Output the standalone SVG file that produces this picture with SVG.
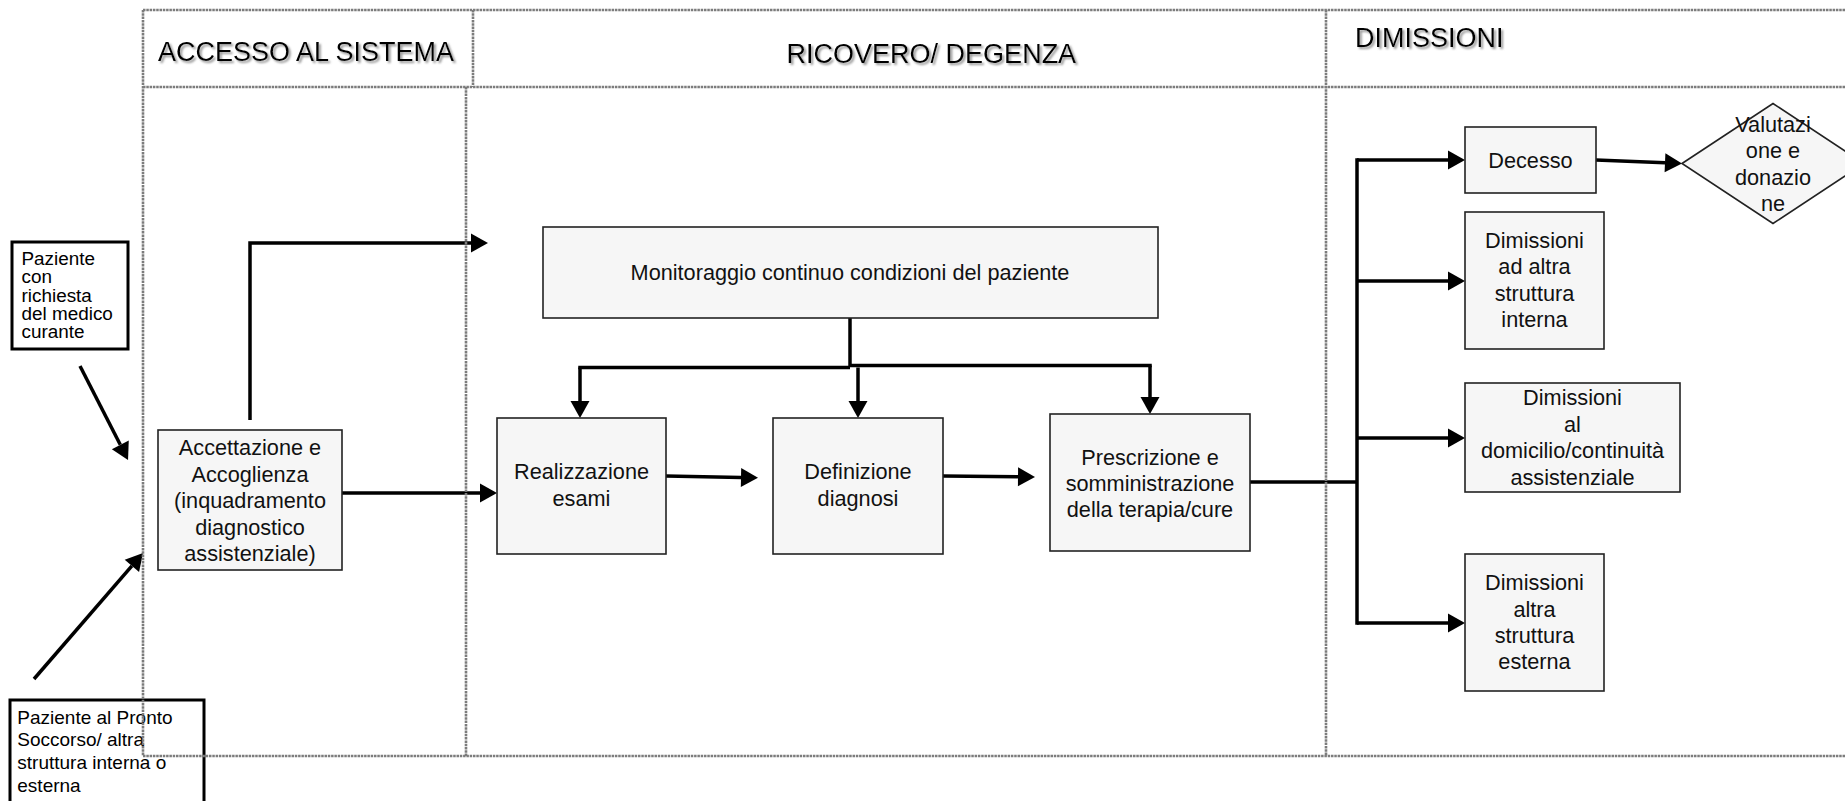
<svg xmlns="http://www.w3.org/2000/svg" width="1845" height="801" viewBox="0 0 1845 801">
<style>
.frame{stroke:#7c7c7c;stroke-width:2.6;stroke-dasharray:2.5 0.8;fill:none}
.hdr{font-family:"Liberation Sans",Arial,sans-serif;font-size:27px;fill:#000}
.box{fill:#f6f6f6;stroke:#222;stroke-width:1.6}
.src{fill:none;stroke:#000;stroke-width:3}
.t{font-family:"Liberation Sans",Arial,sans-serif;font-size:21.7px;fill:#111;text-anchor:middle}
.ts{font-family:"Liberation Sans",Arial,sans-serif;font-size:18.9px;fill:#000}
.tb{font-family:"Liberation Sans",Arial,sans-serif;font-size:19px;fill:#000}
.c{fill:none;stroke:#000;stroke-width:3.5;stroke-linejoin:miter}
</style>
<defs>
<marker id="ah" markerUnits="userSpaceOnUse" viewBox="0 -9.5 17 19" refX="0" refY="0" markerWidth="17" markerHeight="19" orient="auto" overflow="visible">
<path d="M0,-9.5 L17,0 L0,9.5 z" fill="#000"/>
</marker>
<filter id="sh" x="-5%" y="-20%" width="115%" height="160%">
<feDropShadow dx="2" dy="2" stdDeviation="1" flood-color="#888" flood-opacity="0.9"/>
</filter>
</defs>
<rect width="1845" height="801" fill="#fff"/>

<g id="lanes">
<text class="hdr" x="158" y="60.7" filter="url(#sh)">ACCESSO AL SISTEMA</text>
<text class="hdr" x="786.6" y="63.3" filter="url(#sh)">RICOVERO/ DEGENZA</text>
<text class="hdr" x="1355" y="46.7" filter="url(#sh)">DIMISSIONI</text>
</g>

<g id="connectors">
<path class="c" d="M80,366 L120.3,444.8" marker-end="url(#ah)"/>
<path class="c" d="M34,679 L131.9,565.9" marker-end="url(#ah)"/>
<path class="c" d="M250,420 V243 H471" marker-end="url(#ah)"/>
<path class="c" d="M342,493 H480" marker-end="url(#ah)"/>
<path class="c" d="M666,476 L741,477.4" marker-end="url(#ah)"/>
<path class="c" d="M943,476 L1018,476.8" marker-end="url(#ah)"/>
<path class="c" d="M850,318 V366"/>
<path class="c" d="M578.25,367.5 H850"/>
<path class="c" d="M850,365.5 H1151.75"/>
<path class="c" d="M580,367.5 V401" marker-end="url(#ah)"/>
<path class="c" d="M858,367.5 V401" marker-end="url(#ah)"/>
<path class="c" d="M1150,365.5 V397" marker-end="url(#ah)"/>
<path class="c" d="M1250,482 H1357"/>
<path class="c" d="M1357,158.25 V624.75"/>
<path class="c" d="M1357,160 H1448" marker-end="url(#ah)"/>
<path class="c" d="M1357,281 H1448" marker-end="url(#ah)"/>
<path class="c" d="M1357,438 H1448" marker-end="url(#ah)"/>
<path class="c" d="M1357,623 H1448" marker-end="url(#ah)"/>
<path class="c" d="M1596,160 L1665,162.8" marker-end="url(#ah)"/>
</g>

<g id="n-medico">
<rect class="src" x="12" y="242" width="116" height="107"/>
<text class="ts"><tspan x="21.5" y="265">Paziente</tspan><tspan x="21.5" y="283.3">con</tspan><tspan x="21.5" y="301.6">richiesta</tspan><tspan x="21.5" y="320">del medico</tspan><tspan x="21.5" y="338.3">curante</tspan></text>
</g>

<g id="n-pronto">
<rect class="src" x="10" y="700" width="194" height="120"/>
<text class="tb"><tspan x="17.3" y="724">Paziente al Pronto</tspan><tspan x="17.3" y="746.3">Soccorso/ altra</tspan><tspan x="17.3" y="768.6">struttura interna o</tspan><tspan x="17.3" y="791.5">esterna</tspan></text>
</g>

<g id="n-accettazione">
<rect class="box" x="158" y="430" width="184" height="140"/>
<text class="t"><tspan x="250" y="455">Accettazione e</tspan><tspan x="250" y="481.5">Accoglienza</tspan><tspan x="250" y="508">(inquadramento</tspan><tspan x="250" y="534.5">diagnostico</tspan><tspan x="250" y="561">assistenziale)</tspan></text>
</g>

<g id="n-monitoraggio">
<rect class="box" x="543" y="227" width="615" height="91"/>
<text class="t" x="850" y="280">Monitoraggio continuo condizioni del paziente</text>
</g>

<g id="n-realizzazione">
<rect class="box" x="497" y="418" width="169" height="136"/>
<text class="t"><tspan x="581.5" y="479">Realizzazione</tspan><tspan x="581.5" y="506">esami</tspan></text>
</g>

<g id="n-definizione">
<rect class="box" x="773" y="418" width="170" height="136"/>
<text class="t"><tspan x="858" y="479">Definizione</tspan><tspan x="858" y="506">diagnosi</tspan></text>
</g>

<g id="n-prescrizione">
<rect class="box" x="1050" y="414" width="200" height="137"/>
<text class="t"><tspan x="1150" y="465">Prescrizione e</tspan><tspan x="1150" y="491">somministrazione</tspan><tspan x="1150" y="517">della terapia/cure</tspan></text>
</g>

<g id="n-decesso">
<rect class="box" x="1465" y="127" width="131" height="66"/>
<text class="t" x="1530.5" y="168">Decesso</text>
</g>

<g id="n-valutazione">
<path class="box" d="M1682,163.5 L1773,103.5 L1864,163.5 L1773,223.5 z"/>
<text class="t"><tspan x="1773" y="131.7">Valutazi</tspan><tspan x="1773" y="158.3">one e</tspan><tspan x="1773" y="185">donazio</tspan><tspan x="1773" y="211">ne</tspan></text>
</g>

<g id="n-interna">
<rect class="box" x="1465" y="212" width="139" height="137"/>
<text class="t"><tspan x="1534.5" y="248">Dimissioni</tspan><tspan x="1534.5" y="274.3">ad altra</tspan><tspan x="1534.5" y="300.5">struttura</tspan><tspan x="1534.5" y="326.7">interna</tspan></text>
</g>

<g id="n-domicilio">
<rect class="box" x="1465" y="383" width="215" height="109"/>
<text class="t"><tspan x="1572.5" y="405">Dimissioni</tspan><tspan x="1572.5" y="431.5">al</tspan><tspan x="1572.5" y="458">domicilio/continuità</tspan><tspan x="1572.5" y="484.5">assistenziale</tspan></text>
</g>

<g id="n-esterna">
<rect class="box" x="1465" y="554" width="139" height="137"/>
<text class="t"><tspan x="1534.5" y="590">Dimissioni</tspan><tspan x="1534.5" y="616.5">altra</tspan><tspan x="1534.5" y="643">struttura</tspan><tspan x="1534.5" y="669.3">esterna</tspan></text>
</g>

<g id="frame">
<path class="frame" d="M143,10 H1850 M143,87 H1850 M143,756 H1850 M143,10 V756 M473,10 V87 M466,87 V756 M1326,10 V756"/>
</g>
</svg>
